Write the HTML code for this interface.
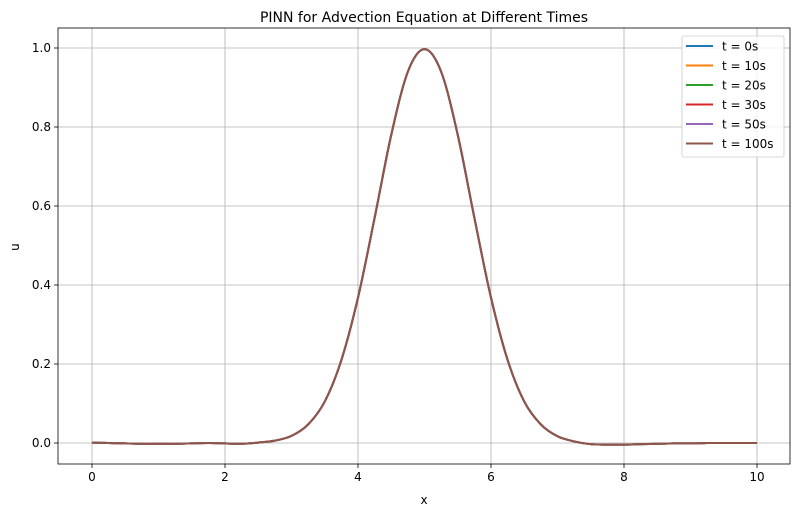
<!DOCTYPE html>
<html><head><meta charset="utf-8"><style>
body{margin:0;background:#fff;}
svg text{font-family:"DejaVu Sans","Liberation Sans",sans-serif;fill:#000;}
</style></head><body>
<svg id="chart" width="800" height="515" xmlns="http://www.w3.org/2000/svg">
<rect width="800" height="515" fill="#fff"/>
<text x="424" y="22" font-size="14" text-anchor="middle">PINN for Advection Equation at Different Times</text>
<g id="grid"></g><g id="series"></g><g id="axes"></g><g id="legend"></g>
<text x="424" y="504" font-size="12" text-anchor="middle">x</text>
<text x="19" y="247" font-size="12" text-anchor="middle" transform="rotate(-90 19 247)">u</text>
</svg>
<script>
const xs = [0,0.25,0.5,0.75,1,1.25,1.5,1.75,2,2.25,2.5,2.75,3,3.25,3.5,3.75,4,4.25,4.5,4.75,5,5.25,5.5,5.75,6,6.25,6.5,6.75,7,7.25,7.5,7.75,8,8.25,8.5,8.75,9,9.25,9.5,9.75,10];
const us = [0.001,0,-0.001,-0.002,-0.002,-0.002,-0.001,0,-0.001,-0.002,0.001,0.006,0.018,0.047,0.105,0.21,0.368,0.57,0.78,0.94,0.997,0.94,0.78,0.57,0.368,0.21,0.105,0.047,0.017,0.004,-0.003,-0.004,-0.004,-0.003,-0.002,-0.001,-0.001,0,0,0,0];
const seriesNames = ["t = 0s","t = 10s","t = 20s","t = 30s","t = 50s","t = 100s"];
const seriesColors = ["#1f77b4","#ff7f0e","#2ca02c","#d62728","#9467bd","#8c564b"];
const xTicks = [0,2,4,6,8,10];
const yTicks = [0,0.2,0.4,0.6,0.8,1.0];
const L=58,R=790,T=28,B=464;
const sx=v=>92+v*66.5, sy=v=>443-v*395;
const NS="http://www.w3.org/2000/svg";
function mk(t,a,p){const e=document.createElementNS(NS,t);for(const k in a)e.setAttribute(k,a[k]);p.appendChild(e);return e;}
const grid=document.getElementById('grid'),axes=document.getElementById('axes');
xTicks.forEach(v=>{const x=sx(v);
 const g=mk('line',{x1:x,x2:x,y1:T,y2:B,stroke:'#b0b0b0','stroke-width':0.8},grid);
 
 mk('line',{x1:x,x2:x,y1:B,y2:B+4,stroke:'#000','stroke-width':0.8},axes);
 const t=mk('text',{x:x,y:B+17,'font-size':12,'text-anchor':'middle'},axes);t.textContent=v;
 });
yTicks.forEach(v=>{const y=sy(v);
 const g=mk('line',{x1:L,x2:R,y1:y,y2:y,stroke:'#b0b0b0','stroke-width':0.8},grid);
 
 mk('line',{x1:L-4,x2:L,y1:y,y2:y,stroke:'#000','stroke-width':0.8},axes);
 const t=mk('text',{x:L-7,y:y+4,'font-size':12,'text-anchor':'end'},axes);t.textContent=v.toFixed(1);
 });
const fr=mk('rect',{x:L,y:T,width:R-L,height:B-T,fill:'none',stroke:'#000','stroke-width':0.8},axes);

const P=xs.map((x,i)=>[sx(x),sy(us[i])]);
let d='M'+P[0][0]+','+P[0][1];
for(let i=0;i<P.length-1;i++){const p0=P[Math.max(i-1,0)],p1=P[i],p2=P[i+1],p3=P[Math.min(i+2,P.length-1)];
 d+=' C'+(p1[0]+(p2[0]-p0[0])/6)+','+(p1[1]+(p2[1]-p0[1])/6)+' '+(p2[0]-(p3[0]-p1[0])/6)+','+(p2[1]-(p3[1]-p1[1])/6)+' '+p2[0]+','+p2[1];}
const ser=document.getElementById('series'),leg=document.getElementById('legend');
seriesNames.forEach((n,i)=>{const p=mk('path',{d:d,fill:'none',stroke:seriesColors[i],'stroke-width':2},ser);
 });
const lb=mk('rect',{x:682,y:36,width:102,height:121,rx:2,fill:'#fff','fill-opacity':0.8,stroke:'#ccc','stroke-width':0.8},leg);

seriesNames.forEach((n,i)=>{const y=46+i*19.5;
 const g=mk('g',{},leg);
 mk('line',{x1:686,x2:713,y1:y,y2:y,stroke:seriesColors[i],'stroke-width':2},g);
 const t=mk('text',{x:722,y:y+4.5,'font-size':12},g);t.textContent=n;});
</script>
</body></html>
